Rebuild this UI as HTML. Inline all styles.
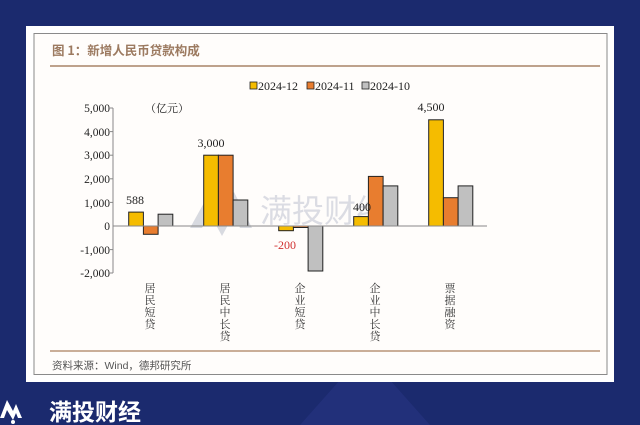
<!DOCTYPE html>
<html><head><meta charset="utf-8"><style>
body{margin:0;width:640px;height:425px;overflow:hidden;background:#1b2a6e;font-family:"Liberation Serif","Noto Serif CJK SC",serif;}
</style></head><body>
<svg width="640" height="425" xmlns="http://www.w3.org/2000/svg" style="position:absolute;left:0;top:0">
<polygon points="300,425 340,380 390,380 430,425" fill="#22307a"/>
<rect x="26" y="26" width="588" height="356" fill="#fff"/>
<rect x="34" y="33.5" width="573" height="341" fill="#fffdfb" stroke="#8a8a8a" stroke-width="1"/>
<text x="52" y="55" font-size="12.5" fill="#9c7a60" font-family="'Noto Sans CJK SC',sans-serif" font-weight="bold">图 1：新增人民币贷款构成</text>
<line x1="50" y1="66" x2="600" y2="66" stroke="#a88468" stroke-width="1.5"/>
<line x1="50" y1="351" x2="600" y2="351" stroke="#b89478" stroke-width="1.5"/>
<text x="52" y="369" font-size="10.5" fill="#555" font-family="'Liberation Sans','Noto Sans CJK SC',sans-serif">资料来源：Wind，德邦研究所</text>
<!-- watermark -->
<g opacity="0.35"><polygon points="190,228 210,192 222,214 234,192 252,228 240,228 234,214 222,236 210,214 202,228" fill="#9098b0"/>
<text x="260" y="222" font-size="32" fill="#9aa0b8" font-family="'Noto Sans CJK SC',sans-serif">满投财经</text></g>
<!-- legend -->
<g font-size="12" fill="#222">
<rect x="250" y="82" width="7" height="7" fill="#f5bc00" stroke="#222" stroke-width="0.8"/><text x="258" y="90">2024-12</text>
<rect x="307" y="82" width="7" height="7" fill="#e87d2f" stroke="#222" stroke-width="0.8"/><text x="315" y="90">2024-11</text>
<rect x="362" y="82" width="7" height="7" fill="#c0c0c0" stroke="#222" stroke-width="0.8"/><text x="370" y="90">2024-10</text>
</g>
<!-- axes -->
<g font-size="11.5" fill="#222" text-anchor="end">
<text x="110" y="112">5,000</text><text x="110" y="136">4,000</text><text x="110" y="159">3,000</text>
<text x="110" y="183">2,000</text><text x="110" y="207">1,000</text><text x="110" y="230">0</text>
<text x="110" y="254">-1,000</text><text x="110" y="277">-2,000</text>
</g>
<line x1="113" y1="108" x2="113" y2="273" stroke="#888" stroke-width="1"/>
<g stroke="#888"><line x1="110" y1="108" x2="113" y2="108"/><line x1="110" y1="131.6" x2="113" y2="131.6"/><line x1="110" y1="155.2" x2="113" y2="155.2"/><line x1="110" y1="178.8" x2="113" y2="178.8"/><line x1="110" y1="202.4" x2="113" y2="202.4"/><line x1="110" y1="249.6" x2="113" y2="249.6"/><line x1="110" y1="273" x2="113" y2="273"/></g>
<text x="145" y="112" font-size="11" fill="#222" font-family="'Noto Serif CJK SC',serif">（亿元）</text>
<g stroke="#222" stroke-width="1">
<rect x="128.7" y="212.1" width="14.7" height="13.9" fill="#f5bc00"/>
<rect x="143.4" y="226" width="14.7" height="8.3" fill="#e87d2f"/>
<rect x="158.1" y="214.2" width="14.7" height="11.8" fill="#c0c0c0"/>
<rect x="203.7" y="155.2" width="14.7" height="70.8" fill="#f5bc00"/>
<rect x="218.4" y="155.2" width="14.7" height="70.8" fill="#e87d2f"/>
<rect x="233.1" y="200" width="14.7" height="26" fill="#c0c0c0"/>
<rect x="278.7" y="226" width="14.7" height="4.7" fill="#f5bc00"/>
<rect x="293.4" y="226" width="14.7" height="1.5" fill="#e87d2f"/>
<rect x="308.1" y="226" width="14.7" height="45" fill="#c0c0c0"/>
<rect x="353.7" y="216.6" width="14.7" height="9.4" fill="#f5bc00"/>
<rect x="368.4" y="176.4" width="14.7" height="49.6" fill="#e87d2f"/>
<rect x="383.1" y="185.9" width="14.7" height="40.1" fill="#c0c0c0"/>
<rect x="428.7" y="119.8" width="14.7" height="106.2" fill="#f5bc00"/>
<rect x="443.4" y="197.7" width="14.7" height="28.3" fill="#e87d2f"/>
<rect x="458.1" y="185.9" width="14.7" height="40.1" fill="#c0c0c0"/>
</g>
<line x1="113" y1="226" x2="487" y2="226" stroke="#888" stroke-width="1"/>
<g font-size="12" fill="#222">
<text x="135" y="204" text-anchor="middle">588</text><text x="211" y="147" text-anchor="middle">3,000</text><text x="353" y="211">400</text><text x="431" y="111" text-anchor="middle">4,500</text>
<text x="285" y="249" fill="#d03030" text-anchor="middle">-200</text>
</g>
<g font-size="11" fill="#333" text-anchor="middle" font-family="'Noto Serif CJK SC',serif">
<text x="150" y="292">居</text><text x="150" y="304">民</text><text x="150" y="316">短</text><text x="150" y="328">贷</text>
<text x="225" y="292">居</text><text x="225" y="304">民</text><text x="225" y="316">中</text><text x="225" y="328">长</text><text x="225" y="340">贷</text>
<text x="300" y="292">企</text><text x="300" y="304">业</text><text x="300" y="316">短</text><text x="300" y="328">贷</text>
<text x="375" y="292">企</text><text x="375" y="304">业</text><text x="375" y="316">中</text><text x="375" y="328">长</text><text x="375" y="340">贷</text>
<text x="450" y="292">票</text><text x="450" y="304">据</text><text x="450" y="316">融</text><text x="450" y="328">资</text>
</g>
<!-- bottom logo -->
<polygon points="0,418 7,400 13,411 16,404 22,418 18,418 16,413 13,420 7,410 4,418" fill="#fff"/>
<circle cx="13" cy="422" r="2" fill="#fff"/>
<text x="49" y="420" font-size="23" fill="#fff" font-family="'Noto Sans CJK SC',sans-serif" font-weight="bold">满投财经</text>
</svg>
</body></html>
